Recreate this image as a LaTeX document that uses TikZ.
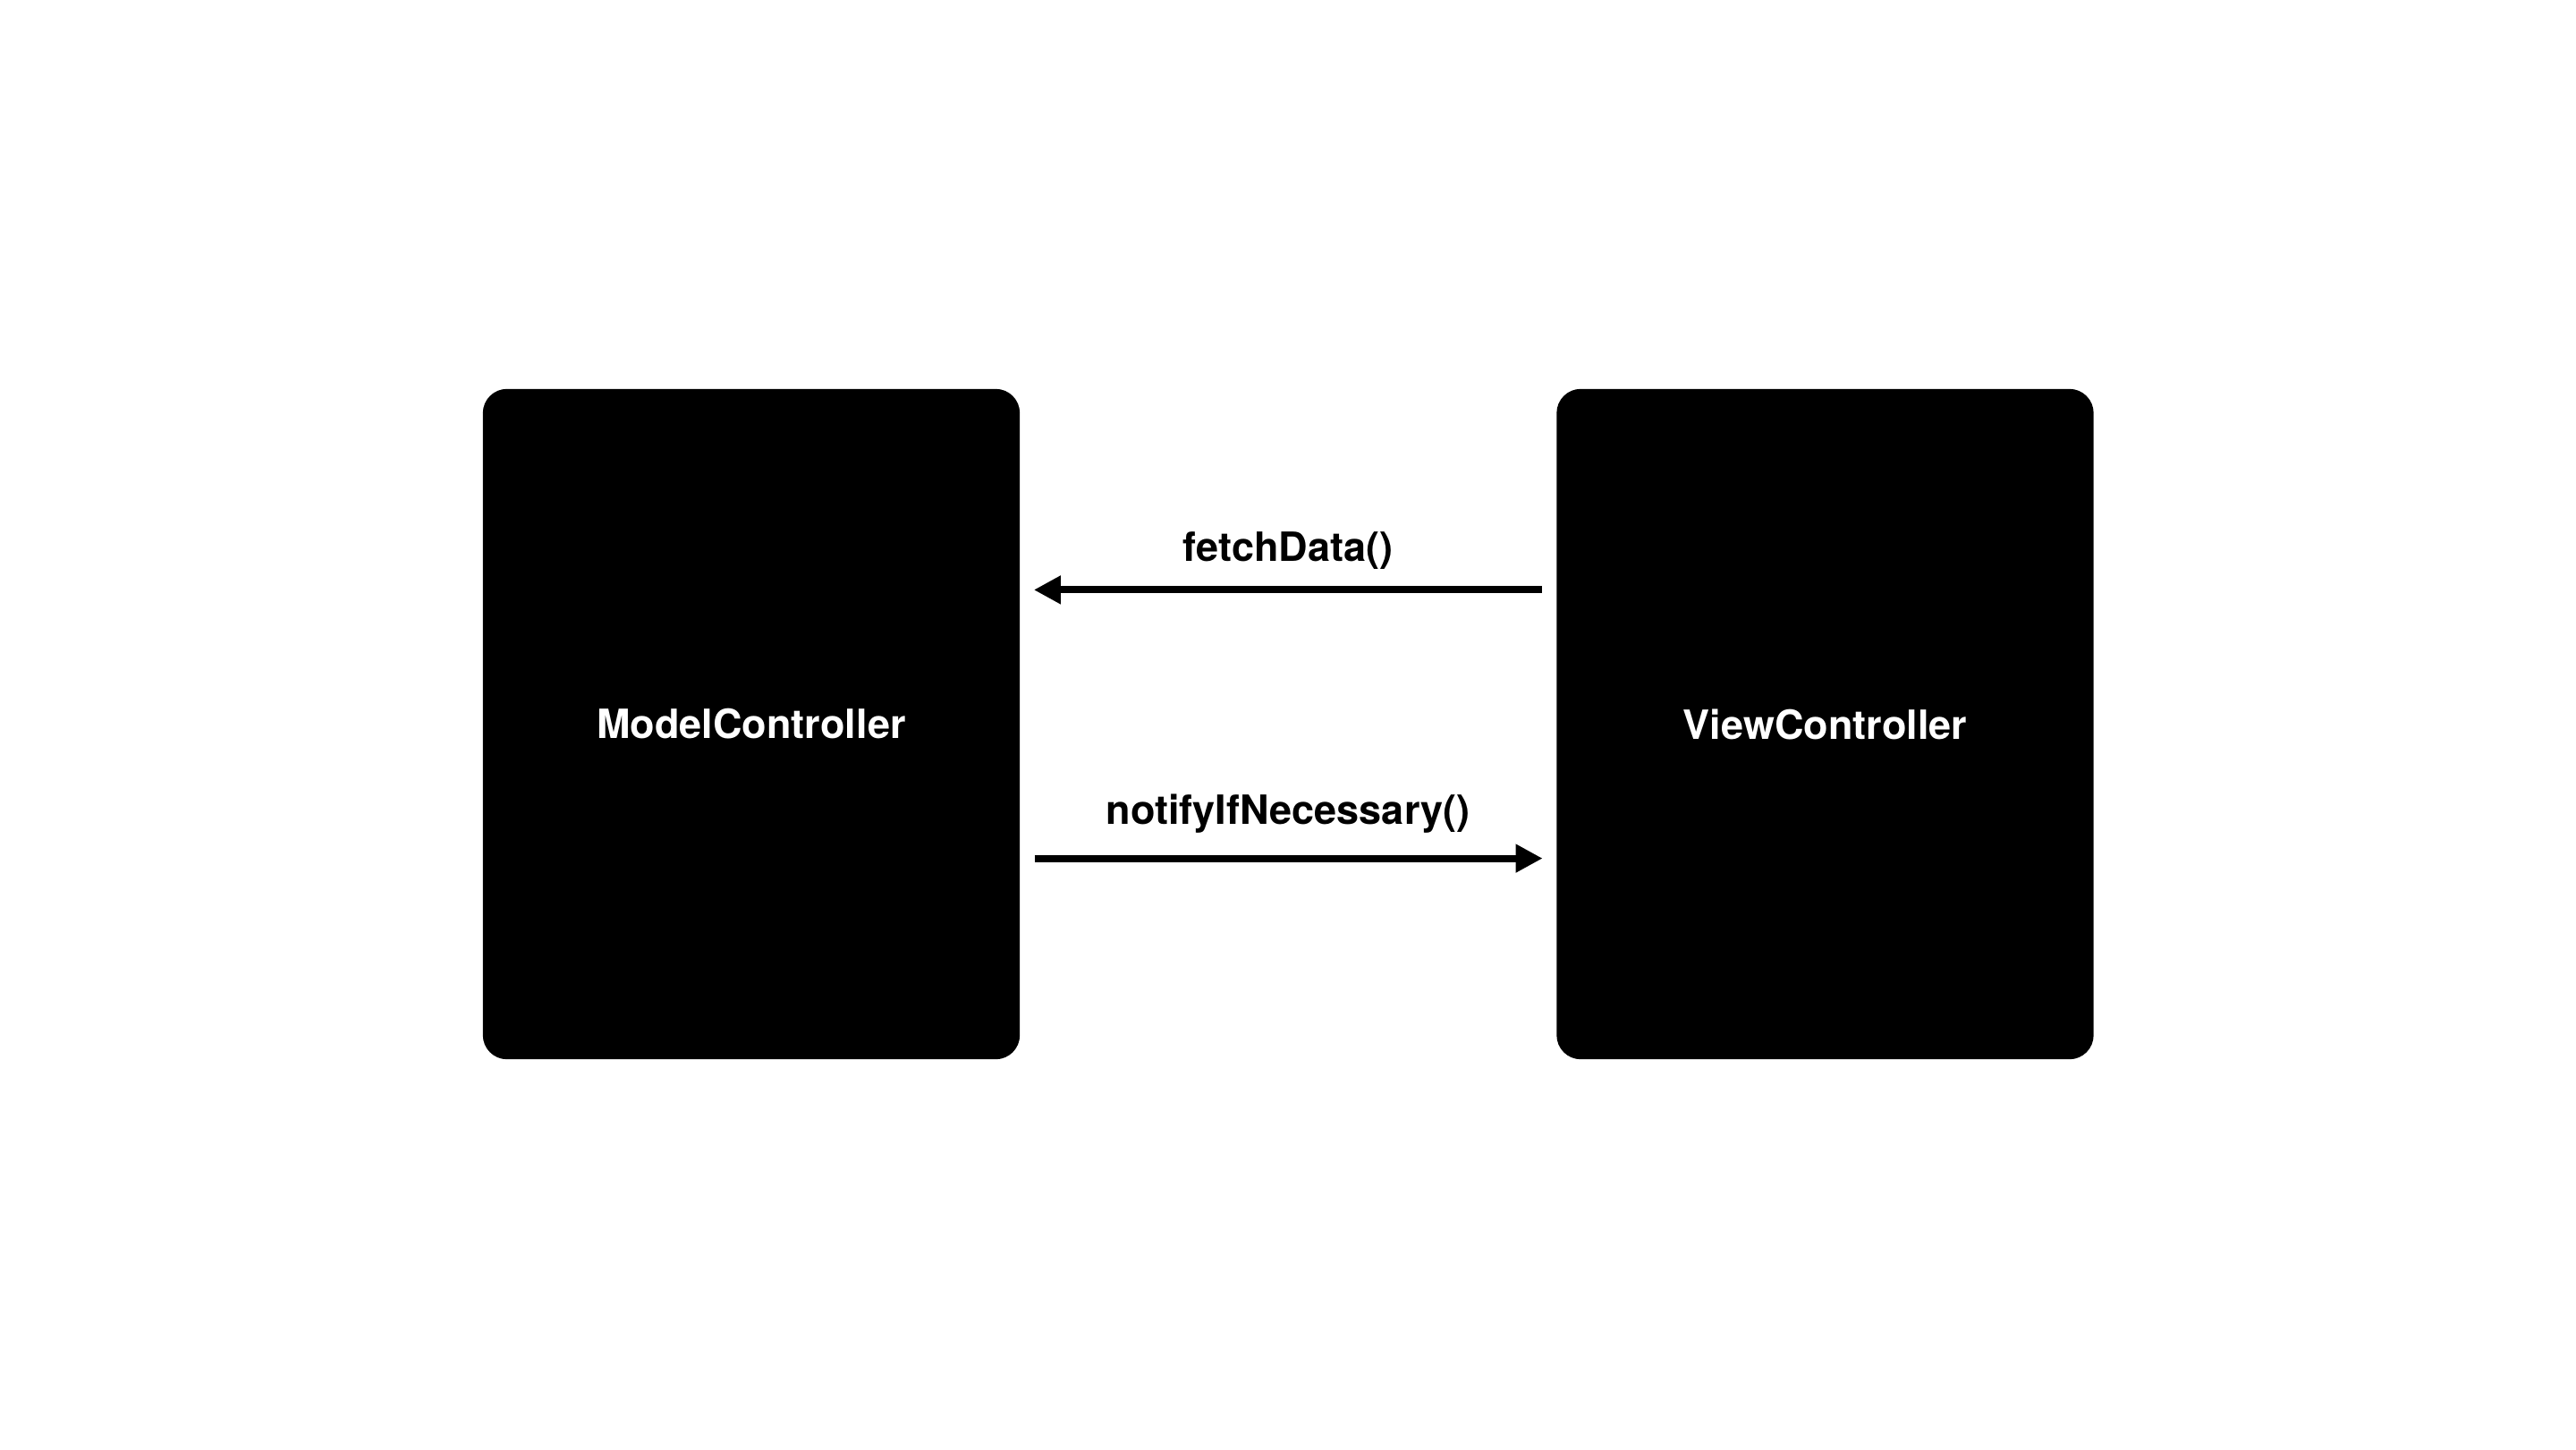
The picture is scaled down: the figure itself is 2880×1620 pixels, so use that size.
\documentclass[tikz,border=0pt]{standalone}
\usepackage{fontspec}
\setmainfont{TeX Gyre Heros}
\usepackage{tikz}
\usetikzlibrary{arrows.meta, positioning}
\tikzset{
    controller/.style={
        rectangle,
        fill=black,
        draw=none,
        rounded corners=0.27cm,
        minimum width=6cm,
        minimum height=7.49cm,
        inner sep=0pt,
        text=white,
        font=\fontsize{12.8}{15}\selectfont\bfseries
    },
    call/.style={
        draw=black,
        line width=2.3pt,
        shorten >=0.15cm,
        shorten <=0.16cm,
        -{Triangle[length=0.3cm, width=0.3cm]}
    },
    calllabel/.style={
        font=\fontsize{12.8}{15}\selectfont\bfseries,
        inner sep=0pt,
        anchor=base
    }
}
\begin{document}
\begin{tikzpicture}[x=0.01cm, y=-0.01cm]
\useasboundingbox (0,0) rectangle (2880,1620);

% Controllers
\node[controller] (model) at (840,809.5) {ModelController};
\node[controller] (view) at (2040.5,809.5) {ViewController};

% Calls
\draw[call] ([yshift=1.5cm]view.west) -- ([yshift=1.5cm]model.east)
    node[calllabel, midway, yshift=0.32cm] (fetch) {fetchData()};
\draw[call] ([yshift=-1.5cm]model.east) -- ([yshift=-1.5cm]view.west)
    node[calllabel, midway, yshift=0.38cm] (notify) {notifyIfNecessary()};

\end{tikzpicture}
\end{document}
